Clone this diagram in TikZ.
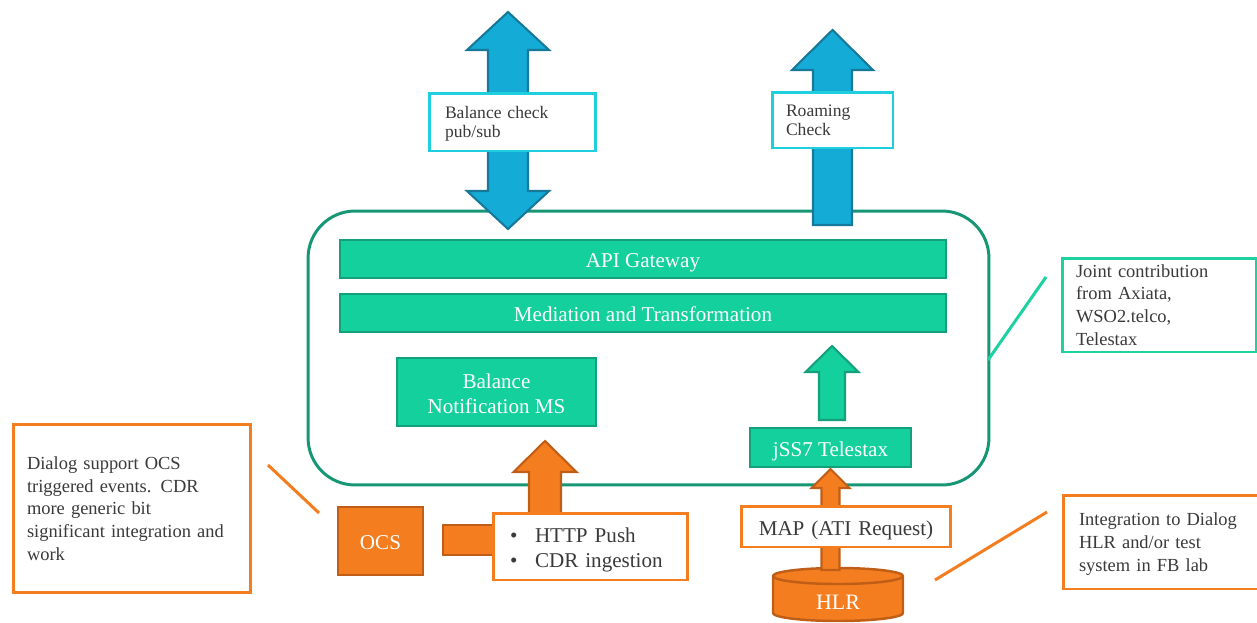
\documentclass[tikz,border=0pt]{standalone}
\usepackage{fontspec}
\setmainfont{Liberation Serif}

\definecolor{blueFill}{HTML}{14ACD6}
\definecolor{blueEdge}{HTML}{16799A}
\definecolor{cyanEdge}{HTML}{1FCFDD}
\definecolor{greenFill}{HTML}{13D09C}
\definecolor{greenEdge}{HTML}{15A07C}
\definecolor{frameGreen}{HTML}{179676}
\definecolor{noteGreen}{HTML}{1DD2A0}
\definecolor{orangeFill}{HTML}{F47D20}
\definecolor{orangeEdge}{HTML}{C05E17}
\definecolor{textGray}{HTML}{3A3A3A}

% block arrow pointing up: style, centre x, tip y, foot y, shaft half, head half, head length
\newcommand{\blockup}[7]{%
	\draw[#1] (#2,#3) -- ({#2+#6},{#3+#7}) -- ({#2+#5},{#3+#7}) -- ({#2+#5},#4)
		-- ({#2-#5},#4) -- ({#2-#5},{#3+#7}) -- ({#2-#6},{#3+#7}) -- cycle;}

\tikzset{
	frame/.style={draw=frameGreen, line width=1.7pt, rounded corners=0.94cm, inner sep=0pt},
	bar/.style={draw=greenEdge, fill=greenFill, line width=1.4pt, text=white, inner sep=0pt,
		align=center, font=\fontsize{12}{14}\selectfont, text height=10pt, text depth=0pt},
	orangebox/.style={draw=orangeEdge, fill=orangeFill, line width=1.4pt, text=white, inner sep=0pt,
		font=\fontsize{12}{14}\selectfont, text height=10pt, text depth=0pt},
	bluearrow/.style={draw=blueEdge, fill=blueFill, line width=1.2pt, line join=miter},
	greenarrow/.style={draw=greenEdge, fill=greenFill, line width=1.2pt, line join=miter},
	orangearrow/.style={draw=orangeEdge, fill=orangeFill, line width=1.2pt, line join=miter},
	tagbox/.style={draw=cyanEdge, fill=white, line width=1.7pt, text=textGray, align=left,
		inner ysep=0pt, font=\fontsize{10}{10.8}\selectfont, text height=6.6pt, text depth=10.8pt},
	notebox/.style={fill=white, line width=1.7pt, text=textGray, align=left,
		inner ysep=0pt, font=\fontsize{10.5}{13}\selectfont, text height=7.3pt},
	flowbox/.style={draw=orangeFill, fill=white, line width=1.7pt, text=textGray, align=left,
		inner ysep=0pt, font=\fontsize{12}{14}\selectfont, text height=10pt, text depth=0pt},
	noteline/.style={line width=1.7pt}
}

\begin{document}
\begin{tikzpicture}[x=0.02cm, y=-0.02cm]
	\useasboundingbox (0,0) rectangle (1257,622);
	
	% platform
	\node[frame, minimum width=13.62cm, minimum height=5.48cm] (platform) at (648.5,348) {};
	\node[bar, minimum width=12.12cm, minimum height=0.76cm] (gateway) at (643,259) {API Gateway};
	\node[bar, minimum width=12.12cm, minimum height=0.76cm] (mediation) at (643,313) {Mediation and Transformation};
	\node[bar, text height=24pt, minimum width=3.98cm, minimum height=1.36cm] (notifier) at (496.5,392) {Balance\\Notification MS};
	\node[bar, minimum width=3.22cm, minimum height=0.78cm] (jss7) at (830.5,447.5) {jSS7 Telestax};
	
	% outside systems
	\node[orangebox, minimum width=1.7cm, minimum height=1.36cm] (ocs) at (380.5,541) {OCS};
	\draw[orangebox] (443,525) rectangle (505,555);
	\draw[orangebox] (773,576) -- (773,613) arc (180:360:1.3cm and 0.16cm) -- (903,576)
		arc (0:180:1.3cm and 0.16cm) -- cycle;
	\draw[draw=orangeEdge, line width=1.4pt] (773,576) arc (180:360:1.3cm and 0.16cm);
	\node[text=white, font=\fontsize{12.5}{14}\selectfont, text height=10pt, text depth=0pt] (hlr) at (838,601) {HLR};
	
	% block arrows
	\draw[bluearrow] (508,12) -- (549,50) -- (528,50) -- (528,191) -- (549,191) -- (508,229)
		-- (467,191) -- (488,191) -- (488,50) -- (467,50) -- cycle;
	\blockup{bluearrow}{832.5}{30}{225}{19.5}{40.5}{40}
	\blockup{greenarrow}{832}{346}{420}{13}{26.5}{26}
	\blockup{orangearrow}{545}{441}{530}{16}{31.5}{31}
	\blockup{orangearrow}{830.5}{469}{570}{9}{19}{19}
	
	% labels
	\node[tagbox, inner xsep=0.32cm, text width=2.7cm, minimum height=1.16cm] (balcheck) at (512.5,122)
		{Balance check\\pub/sub};
	\node[tagbox, inner xsep=0.28cm, text width=1.86cm, minimum height=1.12cm] (roaming) at (832.5,120)
		{Roaming\\Check};
	\node[flowbox, text depth=14pt, inner xsep=0.34cm, text width=3.22cm, minimum height=1.34cm] (channels) at (590.5,546.5)
		{\makebox[0.5cm][l]{\textbullet}HTTP Push\\\makebox[0.5cm][l]{\textbullet}CDR ingestion};
	\node[flowbox, align=center, inner xsep=0cm, text width=4.2cm, minimum height=0.82cm] (map) at (846,526.5)
		{MAP (ATI Request)};
	
	% notes
	\node[notebox, draw=noteGreen, text depth=39pt, inner xsep=0.28cm, text width=3.32cm, minimum height=1.88cm] (joint) at (1159,305)
		{Joint contribution\\from Axiata,\\WSO2.telco,\\Telestax};
	\node[notebox, draw=orangeFill, text depth=52pt, inner xsep=0.28cm, text width=4.2cm, minimum height=3.38cm] (dialog) at (132,508.5)
		{Dialog support OCS\\triggered events. CDR\\more generic bit\\significant integration and\\work};
	\node[notebox, draw=orangeFill, text depth=26pt, inner xsep=0.32cm, text width=3.34cm, minimum height=1.88cm] (integration) at (1162.5,542)
		{Integration to Dialog\\HLR and/or test\\system in FB lab};
	
	\coordinate (dialogend) at (268,465);
	\coordinate (ocsend) at (319,513);
	\coordinate (platformend) at (988,360);
	\coordinate (jointend) at (1046,277);
	\coordinate (hlrend) at (935,580);
	\coordinate (integrationend) at (1047,512);
	\draw[noteline, orangeFill] (dialogend) -- (ocsend);
	\draw[noteline, noteGreen] (platformend) -- (jointend);
	\draw[noteline, orangeFill] (hlrend) -- (integrationend);
\end{tikzpicture}
\end{document}
